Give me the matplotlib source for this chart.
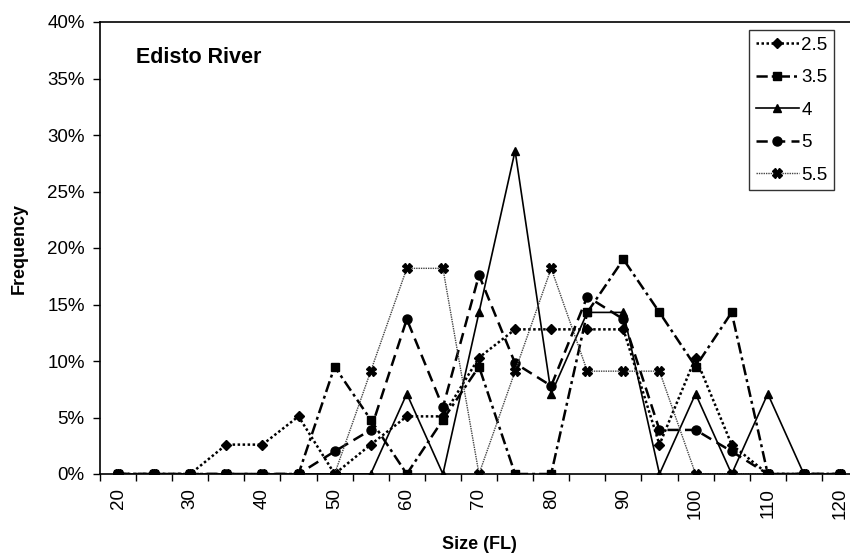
import numpy as np
import matplotlib
matplotlib.use('Agg')
import matplotlib.pyplot as plt
from matplotlib.ticker import FuncFormatter

plt.rcParams['font.family'] = ['Liberation Sans', 'DejaVu Sans']

# size classes (FL) and frequency (%) per series
sizes = [20, 25, 30, 35, 40, 45, 50, 55, 60, 65, 70, 75, 80, 85, 90, 95, 100, 105, 110, 115, 120]
s25 = [0, 0, 0, 2.6, 2.6, 5.1, 0, 2.6, 5.1, 5.1, 10.3, 12.8, 12.8, 12.8, 12.8, 2.6, 10.3, 2.6, 0, 0, 0]
s35 = [0, 0, 0, 0, 0, 0, 9.5, 4.8, 0, 4.8, 9.5, 0, 0, 14.3, 19.0, 14.3, 9.5, 14.3, 0, 0, 0]
s4 = [0, 0, 0, 0, 0, 0, 0, 0, 7.1, 0, 14.3, 28.6, 7.1, 14.3, 14.3, 0, 7.1, 0, 7.1, 0, 0]
s5 = [0, 0, 0, 0, 0, 0, 2.0, 3.9, 13.7, 5.9, 17.6, 9.8, 7.8, 15.7, 13.7, 3.9, 3.9, 2.0, 0, 0, 0]
s55 = [0, 0, 0, 0, 0, 0, 0, 9.1, 18.2, 18.2, 0, 9.1, 18.2, 9.1, 9.1, 9.1, 0, 0, 0, 0, 0]
labels = ['2.5', '3.5', '4', '5', '5.5']

fig = plt.figure(figsize=(8.5, 5.55), dpi=100)
ax = fig.add_axes([100/850, 81/555, 758/850, 452/555])

x = np.array(sizes)
ax.plot(x, s25, color='black', lw=1.8, dashes=(1.0, 1.0), marker='D', ms=5.5, label=labels[0])
ax.plot(x, s35, color='black', lw=1.8, dashes=(4.5, 1.6, 1.2, 1.6), marker='s', ms=6, label=labels[1])
ax.plot(x, s4, color='black', lw=1.2, marker='^', ms=6, label=labels[2])
ax.plot(x, s5, color='black', lw=1.8, dashes=(4.5, 2.5), marker='o', ms=6.5, label=labels[3])
ax.plot(x, s55, color='#444444', lw=1.0, dashes=(1.0, 0.7), marker='X', ms=6.5,
        mfc='black', mec='black', label=labels[4])

ax.set_xlim(17.5, 122.5)
ax.set_ylim(0, 40)
ax.set_yticks(np.arange(0, 41, 5))
ax.yaxis.set_major_formatter(FuncFormatter(lambda v, p: '{:.0f}%'.format(v)))

ax.set_xticks(np.arange(20, 121, 10))
ax.set_xticks(np.arange(17.5, 123, 5), minor=True)
ax.tick_params(axis='x', which='major', length=0, pad=10, labelrotation=90, labelsize=13.5)
ax.tick_params(axis='x', which='minor', length=5, width=1, direction='out')
ax.tick_params(axis='y', length=5, width=1, direction='out', labelsize=13.5, pad=6)

for s in ['left', 'bottom', 'top']:
    ax.spines[s].set_linewidth(1.2)
ax.spines['right'].set_visible(False)

ax.set_ylabel('Frequency', fontsize=13, fontweight='bold', labelpad=14)
ax.set_xlabel('Size (FL)', fontsize=13, fontweight='bold', labelpad=12)
ax.text(0.048, 0.921, 'Edisto River', transform=ax.transAxes, fontsize=15.5,
        fontweight='bold', va='center', ha='left')

leg = ax.legend(loc='upper left', bbox_to_anchor=(649/758, 1 - 8/452), fontsize=13.5,
                frameon=True, fancybox=False, edgecolor='black', handlelength=2.3,
                borderpad=0.35, labelspacing=0.82, handletextpad=0.15, borderaxespad=0)
leg.get_frame().set_linewidth(1.0)

fig.savefig('out.png', dpi=100)
